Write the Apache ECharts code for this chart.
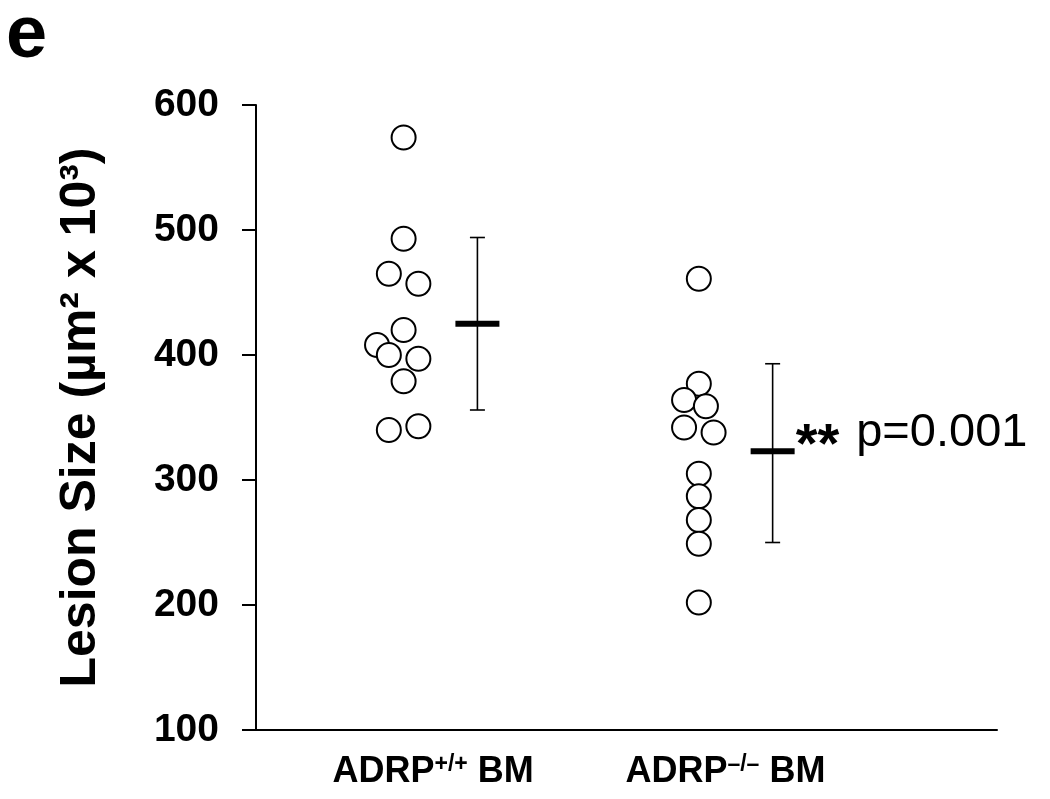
<!DOCTYPE html>
<html>
<head>
<meta charset="utf-8">
<script src="https://cdn.jsdelivr.net/npm/echarts@6/dist/echarts.min.js"></script>
<style>
  html, body { margin: 0; padding: 0; background: #fff; }
  #chart { width: 1050px; height: 799px; }
</style>
</head>
<body>
<div id="chart"></div>
<script>
// groups and their tick labels
const categories = ['ADRP+/+ BM', 'ADRP\u2013/\u2013 BM']
const groupX = [1, 2]

// individual animals (µm² x 10³)
const wtValues = [574, 493, 465, 457, 420, 408, 400, 397, 379, 340, 343]
const koValues = [461, 377, 364, 359, 342, 338, 305, 287, 268, 249, 202]
// horizontal jitter so overlapping dots stay visible
const wtJitter = [0, 0, -0.05, 0.05, 0, -0.09, -0.05, 0.05, 0, -0.05, 0.05]
const koJitter = [0, 0, -0.05, 0.024, -0.05, 0.05, 0, 0, 0, 0, 0]

// mean and SD range per group
const means = [425, 323]
const sdLow = [356, 250]
const sdHigh = [494, 393]
const annotations = ['', '** p=0.001']

const yTicks = [100, 200, 300, 400, 500, 600]

const font = "'Liberation Sans', Arial, sans-serif"

const chart = echarts.init(document.getElementById('chart'), null, { renderer: 'canvas' })

const dots = []
wtValues.forEach((v, i) => dots.push([groupX[0] + wtJitter[i], v]))
koValues.forEach((v, i) => dots.push([groupX[1] + koJitter[i], v]))

const meanData = means.map((m, i) => {
  const item = { value: [groupX[i] + 0.25, m] }
  if (annotations[i]) {
    const [stars, pText] = annotations[i].split(' ')
    item.label = {
      show: true,
      position: 'right',
      distance: 1,
      offset: [0, -18],
      formatter: '{s|' + stars + '}{g|}{p|' + pText + '}',
      rich: {
        s: { fontFamily: font, fontWeight: 'bold', fontSize: 56, color: '#000', padding: [26, 0, 0, 0] },
        g: { width: 17 },
        p: { fontFamily: font, fontSize: 47, color: '#000' }
      }
    }
  }
  return item
})

const errData = means.map((m, i) => [groupX[i] + 0.25, sdLow[i], sdHigh[i]])

chart.setOption({
  animation: false,
  backgroundColor: '#fff',
  grid: { left: 256, right: 53, top: 105, bottom: 69 },
  graphic: [{
    type: 'text',
    left: 6,
    top: 0,
    style: { text: 'e', font: 'bold 74px ' + font, fill: '#000' }
  }],
  xAxis: {
    type: 'value',
    min: 0.5,
    max: 3.01,
    splitLine: { show: false },
    axisTick: { show: false },
    axisLine: { lineStyle: { color: '#000', width: 2 } },
    axisLabel: {
      customValues: [1.1, 2.09],
      margin: 18,
      formatter: v => {
        const i = v < 1.5 ? 0 : 1
        const parts = categories[i].split(' ')
        const base = parts[0].slice(0, 4)
        const sup = parts[0].slice(4)
        return '{b|' + base + '}{u|' + sup + '}{b| ' + parts[1] + '}'
      },
      rich: {
        b: { fontFamily: font, fontWeight: 'bold', fontSize: 36, color: '#000', lineHeight: 42, verticalAlign: 'bottom' },
        u: { fontFamily: font, fontWeight: 'bold', fontSize: 23, color: '#000', lineHeight: 42, verticalAlign: 'bottom', padding: [0, 0, 14, 0] }
      }
    }
  },
  yAxis: {
    type: 'value',
    min: yTicks[0],
    max: yTicks[yTicks.length - 1],
    interval: 100,
    splitLine: { show: false },
    axisLine: { show: true, lineStyle: { color: '#000', width: 2 } },
    axisTick: { show: true, length: 14, lineStyle: { color: '#000', width: 2 } },
    axisLabel: { fontFamily: font, fontWeight: 'bold', fontSize: 39, color: '#000', margin: 37 },
    name: 'Lesion Size (\u00b5m\u00b2 x 10\u00b3)',
    nameLocation: 'middle',
    nameGap: 150,
    nameTextStyle: { fontFamily: font, fontWeight: 'bold', fontSize: 50, color: '#000' }
  },
  series: [
    {
      type: 'custom',
      data: errData,
      renderItem: (params, api) => {
        const top = api.coord([api.value(0), api.value(2)])
        const bot = api.coord([api.value(0), api.value(1)])
        const cap = 7.5
        const style = { stroke: '#000', lineWidth: 1.6 }
        return {
          type: 'group',
          children: [
            { type: 'line', shape: { x1: top[0], y1: top[1], x2: bot[0], y2: bot[1] }, style },
            { type: 'line', shape: { x1: top[0] - cap, y1: top[1], x2: top[0] + cap, y2: top[1] }, style },
            { type: 'line', shape: { x1: bot[0] - cap, y1: bot[1], x2: bot[0] + cap, y2: bot[1] }, style }
          ]
        }
      },
      z: 2
    },
    {
      type: 'scatter',
      data: meanData,
      symbol: 'rect',
      symbolSize: [44, 6],
      itemStyle: { color: '#000', opacity: 1 },
      z: 3
    },
    {
      type: 'scatter',
      data: dots,
      symbol: 'circle',
      symbolSize: 24,
      itemStyle: { color: '#fff', borderColor: '#000', borderWidth: 2, opacity: 1 },
      z: 4
    }
  ]
})
</script>
</body>
</html>
